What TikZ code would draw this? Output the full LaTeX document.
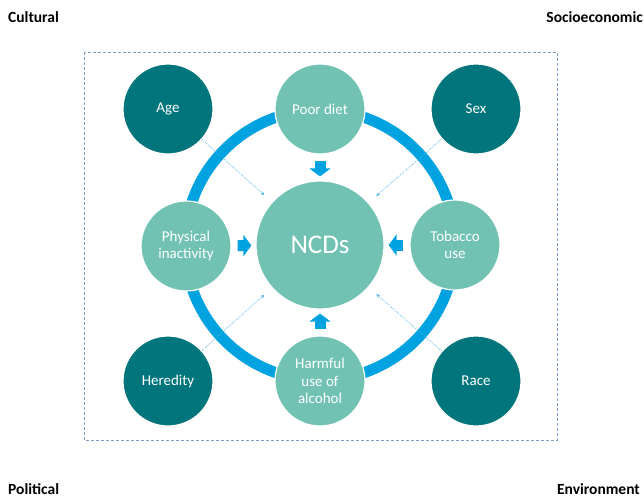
\documentclass[tikz,border=0pt]{standalone}
\usepackage{fontspec}
\setmainfont{Carlito}
\usetikzlibrary{arrows.meta}
\definecolor{ringblue}{HTML}{00A3E0}
\definecolor{lightteal}{HTML}{71C2B3}
\definecolor{darkteal}{HTML}{00757C}
\definecolor{boxline}{HTML}{7F9DC2}
\definecolor{dotblue}{HTML}{55B5E6}
\begin{document}
\begin{tikzpicture}[x=1pt,y=-1pt,
    risk/.style={circle,fill=lightteal,draw=white,line width=1.2pt,minimum size=90pt,inner sep=0pt,
      text=white,align=center,font=\fontsize{15}{17.5}\selectfont},
    factor/.style={risk,fill=darkteal},
    fat/.style={ringblue,line width=11pt,-{Triangle[width=21pt,length=8pt]},shorten <=6pt,shorten >=4pt},
    hint/.style={dotblue,line width=0.6pt,dash pattern=on 1pt off 1pt,-{Stealth[length=4pt,width=3.5pt]},shorten >=10pt},
    corner/.style={inner sep=0pt,font=\bfseries\fontsize{15.5}{17}\selectfont}]
  \useasboundingbox (0,0) rectangle (644,500);
  % the four outer labels
  \node[corner,anchor=west] (cul) at (8,17) {Cultural};
  \node[corner,anchor=east] (soc) at (643,17) {Socioeconomic};
  \node[corner,anchor=west] (pol) at (8,489) {Political};
  \node[corner,anchor=east] (env) at (640,489) {Environment};
  \draw[boxline,line width=0.7pt,dash pattern=on 3pt off 2pt] (84,52) rectangle (557,440);

  \node[risk,minimum size=128pt,font=\fontsize{27}{30}\selectfont] (ncd) at (320,245) {NCDs};
  \draw[ringblue,line width=11pt] (ncd.center) circle[radius=135pt];

  % risk factors on the ring
  \node[risk] (diet) at (320,109) {Poor diet};
  \node[risk] (phys) at (186,246) {Physical\\inactivity};
  \node[risk] (tob) at (455,245) {Tobacco\\use};
  \node[risk] (alc) at (320,381) {Harmful\\use of\\alcohol};

  % fixed factors in the corners
  \node[factor] (age) at (168,109) {Age};
  \node[factor] (sex) at (476,109) {Sex};
  \node[factor] (her) at (168,381) {Heredity};
  \node[factor] (race) at (476,381) {Race};

  \draw[fat] (diet) -- (ncd);
  \draw[fat] (phys) -- (ncd);
  \draw[fat] (tob) -- (ncd);
  \draw[fat] (alc) -- (ncd);

  \draw[hint] (age) -- (ncd);
  \draw[hint] (sex) -- (ncd);
  \draw[hint] (her) -- (ncd);
  \draw[hint] (race) -- (ncd);
\end{tikzpicture}
\end{document}
